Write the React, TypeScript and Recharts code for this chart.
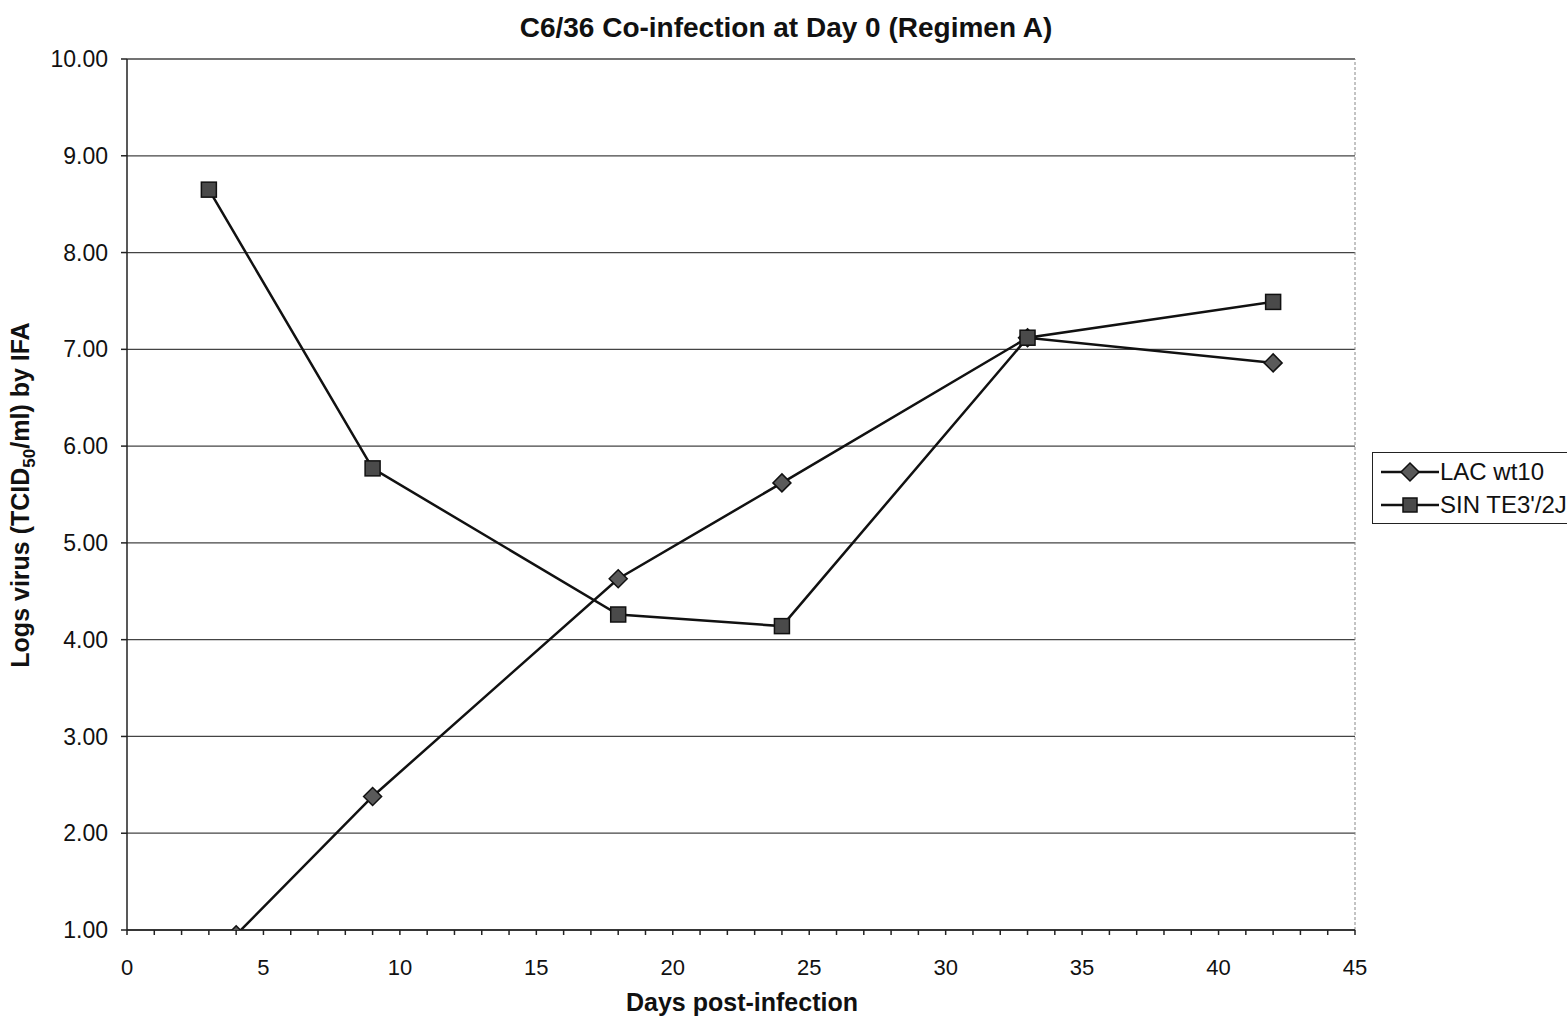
import React from 'react';
import { LineChart, Line, XAxis, YAxis, CartesianGrid, ReferenceLine } from 'recharts';

// Days post-infection and log titres for each virus
const lacDays = [4, 9, 18, 24, 33, 42];
const lacLogs = [0.95, 2.38, 4.63, 5.62, 7.12, 6.86];
const sinDays = [3, 9, 18, 24, 33, 42];
const sinLogs = [8.65, 5.77, 4.26, 4.14, 7.12, 7.49];

const xTicks = Array.from({ length: 46 }, (_, i) => i);
const yTicks = [1, 2, 3, 4, 5, 6, 7, 8, 9, 10];

const lacData = lacDays.map((d, i) => ({ day: d, value: lacLogs[i] }));
const sinData = sinDays.map((d, i) => ({ day: d, value: sinLogs[i] }));

const FONT = '"Liberation Sans", Arial, sans-serif';

const Diamond = (props: any) => {
  const { cx, cy } = props;
  if (cx == null || cy == null) return null;
  const r = 9;
  return (
    <path
      d={`M${cx},${cy - r} L${cx + r},${cy} L${cx},${cy + r} L${cx - r},${cy} Z`}
      fill="#5a5a5a"
      stroke="#111"
      strokeWidth={1.5}
    />
  );
};

const Square = (props: any) => {
  const { cx, cy } = props;
  if (cx == null || cy == null) return null;
  const s = 15;
  return <rect x={cx - s / 2} y={cy - s / 2} width={s} height={s} fill="#4a4a4a" stroke="#111" strokeWidth={1.5} />;
};

const YTitle = () => (
  <text
    x={0}
    y={0}
    transform="translate(29,495) rotate(-90)"
    textAnchor="middle"
    fontFamily={FONT}
    fontWeight="bold"
    fontSize={25}
    fill="#111"
  >
    Logs virus (TCID
    <tspan fontSize={17} dy={6}>50</tspan>
    <tspan dy={-6}>/ml) by IFA</tspan>
  </text>
);

const LegendBox = () => (
  <div
    style={{
      position: 'absolute',
      left: 1372,
      top: 452,
      width: 200,
      height: 72,
      border: '1.5px solid #222',
      background: '#fff',
      fontFamily: FONT,
      fontSize: 24,
      color: '#111',
      boxSizing: 'border-box',
    }}
  >
    {[
      { label: 'LAC wt10', shape: 'diamond' },
      { label: "SIN TE3'/2J", shape: 'square' },
    ].map((item, i) => (
      <div key={item.label} style={{ position: 'absolute', left: 6, top: 5 + i * 33, display: 'flex', alignItems: 'center', whiteSpace: 'nowrap' }}>
        <svg width={60} height={26}>
          <line x1={2} y1={13} x2={60} y2={13} stroke="#111" strokeWidth={2.5} />
          {item.shape === 'diamond' ? (
            <path d="M31,4 L40,13 L31,22 L22,13 Z" fill="#5a5a5a" stroke="#111" strokeWidth={1.5} />
          ) : (
            <rect x={24} y={6} width={14} height={14} fill="#4a4a4a" stroke="#111" strokeWidth={1.5} />
          )}
        </svg>
        <span style={{ marginLeft: 1 }}>{item.label}</span>
      </div>
    ))}
  </div>
);

export default function App() {
  return (
    <div style={{ position: 'absolute', left: 0, top: 0, width: 1567, height: 1021, background: '#fff', overflow: 'hidden' }}>
      <div
        style={{
          position: 'absolute',
          left: 0,
          width: 1572,
          top: 12,
          textAlign: 'center',
          fontFamily: FONT,
          fontWeight: 'bold',
          fontSize: 28,
          color: '#111',
        }}
      >
        C6/36 Co-infection at Day 0 (Regimen A)
      </div>
      <div
        style={{
          position: 'absolute',
          left: 0,
          width: 1484,
          top: 988,
          textAlign: 'center',
          fontFamily: FONT,
          fontWeight: 'bold',
          fontSize: 25,
          color: '#111',
        }}
      >
        Days post-infection
      </div>
      <LineChart
        width={1567}
        height={1021}
        margin={{ top: 59, right: 212, bottom: 51, left: 67 }}
        style={{ position: 'absolute', left: 0, top: 0 }}
      >
        <CartesianGrid horizontal vertical={false} stroke="#444" strokeWidth={1.3} />
        <ReferenceLine x={45} stroke="#888" strokeDasharray="3 2" />
        <XAxis
          type="number"
          dataKey="day"
          domain={[0, 45]}
          ticks={xTicks}
          interval={0}
          height={40}
          allowDataOverflow
          tickSize={5}
          tickMargin={24}
          tickFormatter={(v: number) => (v % 5 === 0 ? String(v) : '')}
          stroke="#222"
          strokeWidth={1.5}
          tick={{ fill: '#111', fontFamily: FONT, fontSize: 22 }}
        />
        <YAxis
          type="number"
          domain={[1, 10]}
          ticks={yTicks}
          interval={0}
          width={60}
          allowDataOverflow
          tickSize={6}
          tickMargin={13}
          tickFormatter={(v: number) => v.toFixed(2)}
          stroke="#222"
          strokeWidth={1.5}
          tick={{ fill: '#111', fontFamily: FONT, fontSize: 23 }}
        />
        <Line
          data={lacData}
          dataKey="value"
          name="LAC wt10"
          stroke="#111"
          strokeWidth={2.5}
          dot={<Diamond />}
          isAnimationActive={false}
        />
        <Line
          data={sinData}
          dataKey="value"
          name="SIN TE3'/2J"
          stroke="#111"
          strokeWidth={2.5}
          dot={<Square />}
          isAnimationActive={false}
        />
      </LineChart>
      <svg width={60} height={1021} style={{ position: 'absolute', left: 0, top: 0 }}>
        <YTitle />
      </svg>
      <LegendBox />
    </div>
  );
}
